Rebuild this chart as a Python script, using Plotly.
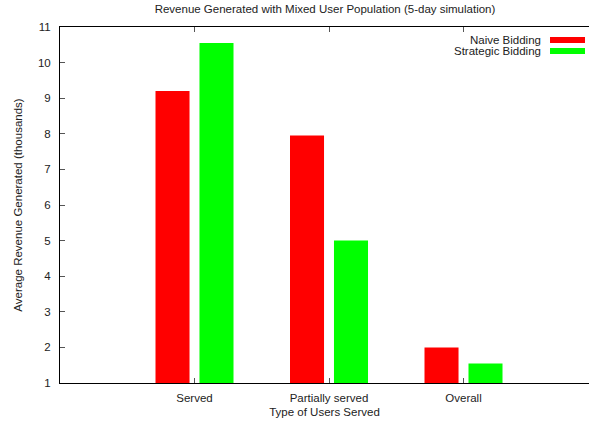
import plotly.graph_objects as go

categories = ["Served", "Partially served", "Overall"]
series_names = ["Naive Bidding", "Strategic Bidding"]
naive = [9.2, 7.95, 2.0]
strategic = [10.55, 5.0, 1.55]
colors = ["#ff0000", "#00ff00"]

x_idx = list(range(len(categories)))
FONT = "Liberation Sans, Arial, Helvetica, sans-serif"
FS = 11.5
TXT = "#222"

fig = go.Figure()
fig.add_trace(go.Bar(x=x_idx, y=naive, name=series_names[0], marker_color=colors[0],
                     marker_line_width=0, width=0.253, offset=-0.29))
fig.add_trace(go.Bar(x=x_idx, y=strategic, name=series_names[1], marker_color=colors[1],
                     marker_line_width=0, width=0.253, offset=0.037))

# legend, gnuplot style (text right-aligned, swatch on the right)
leg_y = [40, 51]
for i, name in enumerate(series_names):
    ypaper = (383 - leg_y[i]) / 356
    fig.add_annotation(x=(543 - 60) / 529, y=ypaper, xref="paper", yref="paper", text=name,
                       showarrow=False, xanchor="right", yanchor="middle",
                       font=dict(family=FONT, size=FS, color=TXT))
    fig.add_shape(type="rect", xref="paper", yref="paper",
                  x0=(550 - 60) / 529, x1=(585 - 60) / 529,
                  y0=ypaper - 3 / 356, y1=ypaper + 3 / 356,
                  fillcolor=colors[i], line_width=0)

fig.update_layout(
    width=589, height=425,
    margin=dict(l=60, r=0, t=27, b=42),
    paper_bgcolor="white", plot_bgcolor="white",
    barmode="overlay", showlegend=False,
    font=dict(family=FONT, size=FS, color=TXT),
    title=dict(text="Revenue Generated with Mixed User Population (5-day simulation)",
               x=325 / 589, xanchor="center", y=1 - 9 / 425, yanchor="middle",
               font=dict(family=FONT, size=FS, color=TXT)),
)
fig.update_xaxes(
    range=[-1, 2.933], tickmode="array", tickvals=x_idx, ticktext=categories,
    showline=True, linecolor="black", linewidth=1, mirror="ticks",
    ticks="inside", ticklen=5, tickcolor="#555", tickwidth=1,
    showgrid=False, zeroline=False, ticklabelstandoff=4,
    title=dict(text="Type of Users Served", standoff=5,
               font=dict(family=FONT, size=FS, color=TXT)),
)
fig.update_yaxes(
    range=[1, 11], dtick=1, tick0=1,
    showline=True, linecolor="black", linewidth=1, mirror=False,
    ticks="inside", ticklen=5, tickcolor="#555", tickwidth=1,
    showgrid=False, zeroline=False, ticklabelstandoff=6,
    title=dict(text="Average Revenue Generated (thousands)", standoff=12,
               font=dict(family=FONT, size=FS, color=TXT)),
)

fig.write_html("out.html", config={"displayModeBar": False},
               post_script="document.body.style.margin='0';document.body.style.overflow='hidden';")
